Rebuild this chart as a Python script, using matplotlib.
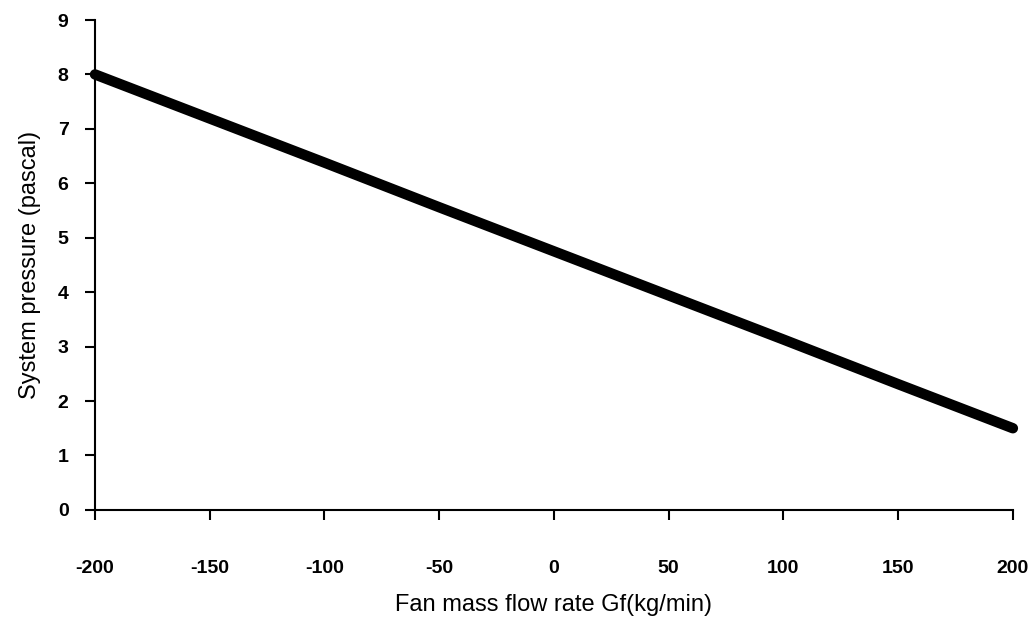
import matplotlib.pyplot as plt

plt.rcParams['font.family'] = ['Liberation Sans', 'DejaVu Sans']
plt.rcParams['axes.unicode_minus'] = False

# system curve points
flow = [-200, -150, -100, -50, 0, 50, 100, 150, 200]
pressure = [8.0, 7.19, 6.38, 5.56, 4.75, 3.94, 3.13, 2.31, 1.5]

xticks = [-200, -150, -100, -50, 0, 50, 100, 150, 200]
yticks = [0, 1, 2, 3, 4, 5, 6, 7, 8, 9]

fig = plt.figure(figsize=(10.36, 6.35), dpi=100)
ax = fig.add_axes([0.0917, 0.197, 0.886, 0.7715])

ax.plot(flow, pressure, color='black', linewidth=7.5, solid_capstyle='round', clip_on=False, zorder=3)

ax.set_xlim(-200, 200)
ax.set_ylim(0, 9)
ax.set_xticks(xticks)
ax.set_yticks(yticks)

ax.spines['top'].set_visible(False)
ax.spines['right'].set_visible(False)
ax.spines['left'].set_linewidth(1.5)
ax.spines['bottom'].set_linewidth(1.5)

ax.tick_params(axis='x', direction='out', length=7, width=1.5, pad=29, labelsize=14)
ax.tick_params(axis='y', direction='out', length=7, width=1.5, pad=12, labelsize=14)
for lbl in ax.get_xticklabels() + ax.get_yticklabels():
    lbl.set_fontweight('bold')

# naming the axes
ax.set_xlabel('Fan mass flow rate Gf(kg/min)', fontsize=17, labelpad=12)
ax.set_ylabel('System pressure (pascal)', fontsize=17, labelpad=12)

fig.savefig('out.png', dpi=100)
